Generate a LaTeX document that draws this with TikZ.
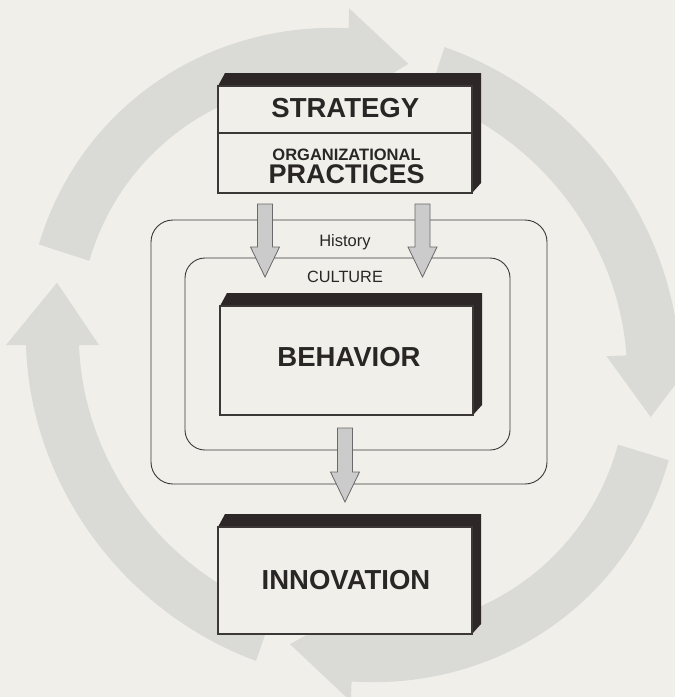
\documentclass[tikz,border=0pt]{standalone}
\usepackage{fontspec}
\setmainfont{Liberation Sans}
\usetikzlibrary{calc,backgrounds}

\definecolor{paper}{HTML}{F0EFEA}
\definecolor{ringgray}{HTML}{DADAD6}
\definecolor{ink}{HTML}{2B2626}
\definecolor{reliefdark}{HTML}{2E2727}
\definecolor{frame}{HTML}{3C3838}
\definecolor{arrowfill}{HTML}{CBCBCB}
\definecolor{arrowline}{HTML}{6A6868}

\tikzset{
  faceBox/.style={draw=frame, line width=1.2pt, fill=paper, inner sep=0pt, outer sep=0pt},
  layerBox/.style={draw=frame, line width=0.9pt, inner sep=0pt, outer sep=0pt},
  bigLabel/.style={text=ink, inner sep=0pt, anchor=base, font=\fontsize{27.5}{30}\selectfont\bfseries},
  smallCaps/.style={text=ink, inner sep=0pt, anchor=base, font=\fontsize{16.5}{19}\selectfont\bfseries},
  layerLabel/.style={text=ink, inner sep=0pt, anchor=base, font=\fontsize{16.3}{19}\selectfont},
}

% one quarter of the surrounding cycle: tail angle, head base angle, tip angle
\newcommand{\ringarrow}[3]{%
  \fill[ringgray] (#1:337pt and 317pt)
    arc[start angle=#1, end angle=#2, x radius=337pt, y radius=317pt]
    -- (#2:357pt and 337pt) -- (#3:310.5pt and 290.5pt) -- (#2:264pt and 244pt)
    -- (#2:284pt and 264pt)
    arc[start angle=#2, end angle=#1, x radius=284pt, y radius=264pt] -- cycle;}

% dark relief along the top and right side of a box (top node, bottom node)
\newcommand{\boxshade}[2]{%
  \fill[reliefdark] (#1.north west) -- ++(7,13) -- ($(#1.north east)+(9,13)$)
    -- ($(#2.south east)+(9,10)$) -- (#2.south east) -- (#1.north east) -- cycle;}

% broad grey block arrow from #1 down to the tip #2
\newcommand{\blockarrow}[2]{%
  \filldraw[fill=arrowfill, draw=arrowline, line width=0.8pt, line join=miter]
    ($(#1)+(-7.5,0)$) -- ($(#2)+(-7.5,30)$) -- ($(#2)+(-14.5,30)$) -- (#2)
    -- ($(#2)+(14.5,30)$) -- ($(#2)+(7.5,30)$) -- ($(#1)+(7.5,0)$) -- cycle;}

\begin{document}
\begin{tikzpicture}[x=1pt, y=1pt]
  \useasboundingbox (0,0) rectangle (675,-697);

  % nested context frames
  \node[layerBox, rounded corners=22pt, minimum width=396pt, minimum height=264pt] (history) at (349,-352) {};
  \node[layerBox, rounded corners=20pt, minimum width=325pt, minimum height=192pt] (culture) at (347.5,-354) {};

  % boxes
  \node[faceBox, minimum width=254pt, minimum height=47pt] (strat) at (345,-109.5) {};
  \node[faceBox, minimum width=254pt, minimum height=60pt] (prac) at (345,-163) {};
  \node[faceBox, minimum width=253pt, minimum height=109pt] (behav) at (346.5,-360.5) {};
  \node[faceBox, minimum width=254pt, minimum height=107pt] (innov) at (345,-580.5) {};

  % labels
  \node[bigLabel] (tStrat) at (345.3,-117.5) {STRATEGY};
  \node[smallCaps] (tOrg) at (346.5,-160) {ORGANIZATIONAL};
  \node[bigLabel, font=\fontsize{27}{30}\selectfont\bfseries] (tPrac) at (346.7,-183.5) {PRACTICES};
  \node[layerLabel, font=\fontsize{16.5}{19}\selectfont] (tHist) at (345,-246) {History};
  \node[layerLabel] (tCult) at (345,-282) {CULTURE};
  \node[bigLabel] (tBehav) at (349,-366) {BEHAVIOR};
  \node[bigLabel] (tInnov) at (346,-589.3) {INNOVATION};

  % block arrows
  \coordinate (pL) at ($(prac.south)+(-80,-11)$);
  \coordinate (pR) at ($(prac.south)+(77.5,-11)$);
  \coordinate (cL) at ($(culture.north)+(-82.5,-19)$);
  \coordinate (cR) at ($(culture.north)+(75,-19)$);
  \coordinate (bOut) at ($(behav.south)+(-1.5,-13)$);
  \coordinate (iIn) at ($(innov.north)+(0,25)$);
  \blockarrow{pL}{cL}
  \blockarrow{pR}{cR}
  \blockarrow{bOut}{iIn}

  \begin{scope}[on background layer]
    \fill[paper] (0,0) rectangle (675,-697);
    % clockwise cycle of four broad arrows
    \begin{scope}[shift={(353,-355)}, rotate=-45]
      \ringarrow{207}{134}{122.5}
      \ringarrow{117}{47}{35}
      \ringarrow{28}{-47}{-59}
      \ringarrow{-64}{-135}{-147}
    \end{scope}
    \boxshade{strat}{prac}
    \boxshade{behav}{behav}
    \boxshade{innov}{innov}
  \end{scope}
\end{tikzpicture}
\end{document}
